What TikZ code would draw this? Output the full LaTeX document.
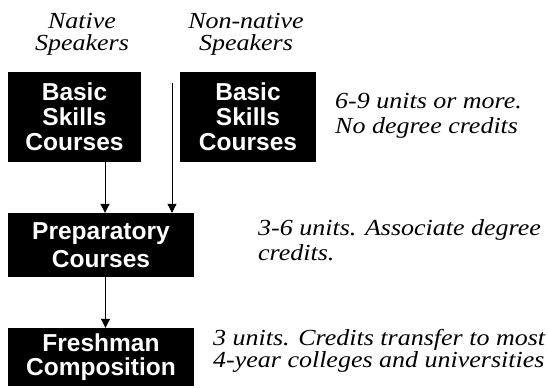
\documentclass[tikz,border=0pt]{standalone}
\usepackage{fontspec}
\usepackage{tikz}
\usetikzlibrary{arrows.meta}
\newfontfamily\boxfont{Liberation Sans}
\newfontfamily\notefont{Liberation Serif}[FakeStretch=1.13]

\begin{document}
\begin{tikzpicture}[x=1pt,y=-1pt,
    course/.style={fill=black, text=white, inner sep=0pt, align=center,
        font=\boxfont\bfseries\fontsize{24.5}{25}\selectfont},
    note/.style={inner sep=0pt, align=left,
        font=\notefont\itshape\fontsize{23}{22}\selectfont},
    flow/.style={line width=1pt, -{Triangle[width=9pt,length=9pt]}}]

    \useasboundingbox (0,0) rectangle (548,388);

    % column headings (base = last line)
    \node[note, align=center, anchor=base] (nat) at (82,50) {Native\\Speakers};
    \node[note, align=center, anchor=base] (non) at (246,50) {Non-native\\Speakers};

    % course boxes, placed by their centres
    \node[course, minimum width=133pt, minimum height=90pt] (basicA) at (74.5,117) {Basic\\Skills\\Courses};
    \node[course, minimum width=136pt, minimum height=90pt] (basicB) at (248,117) {Basic\\Skills\\Courses};
    \node[course, minimum width=186pt, minimum height=64pt,
          font=\boxfont\bfseries\fontsize{24.5}{28}\selectfont] (prep) at (101,245) {Preparatory\\Courses};
    \node[course, minimum width=186pt, minimum height=58pt,
          font=\boxfont\bfseries\fontsize{24.5}{24}\selectfont] (fresh) at (101,357) {Freshman\\Composition};

    % notes on the right
    \node[note, anchor=base west, font=\notefont\itshape\fontsize{23}{25}\selectfont] (unitsA) at (335,133) {6-9 units or more.\\No degree credits};
    \node[note, anchor=base west, font=\notefont\itshape\fontsize{23}{25}\selectfont] (unitsB) at (258,260) {3-6 units. Associate degree\\credits.};
    \node[note, anchor=base west, font=\notefont\itshape\fontsize{23}{16.5}\selectfont] (unitsC) at (213,367) {3 units. Credits transfer to most\\4-year colleges and universities};

    % arrows
    \coordinate (entry) at (172,83);
    \draw[flow] ([xshift=30.5pt]basicA.south) -- ([xshift=30.5pt]basicA.south |- prep.north);
    \draw[flow] (entry) -- (entry |- prep.north);
    \draw[flow] ([xshift=4.5pt]prep.south) -- ([xshift=4.5pt]fresh.north);

\end{tikzpicture}
\end{document}
